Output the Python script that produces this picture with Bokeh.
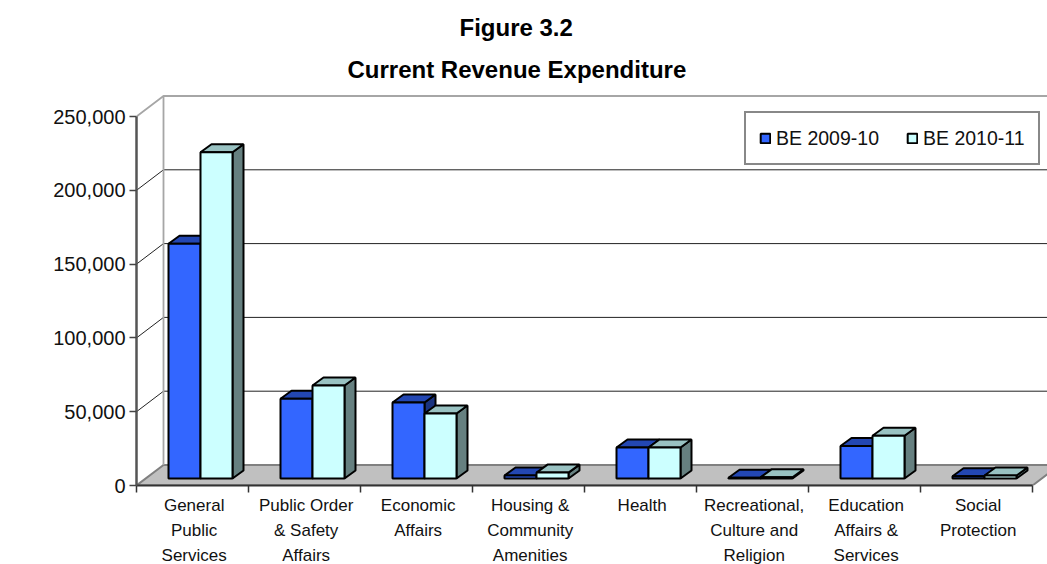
import math
from bokeh.embed import file_html
from bokeh.resources import INLINE
from bokeh.plotting import figure
from bokeh.models import (FixedTicker, Label, Legend, LegendItem, NumeralTickFormatter, Range1d, Title)

categories = ["General\nPublic\nServices", "Public Order\n& Safety\nAffairs", "Economic\nAffairs",
              "Housing &\nCommunity\nAmenities", "Health", "Recreational,\nCulture and\nReligion",
              "Education\nAffairs &\nServices", "Social\nProtection"]
be_2009_10 = [159000, 54000, 51500, 2000, 21000, 500, 22000, 1500]
be_2010_11 = [221000, 63000, 44000, 4000, 21000, 800, 29000, 2000]
y_ticks = [0, 50000, 100000, 150000, 200000, 250000]

PX_X = 112.0           # px per category
PX_Y = 73.8 / 50000.0  # px per value unit
FONT = "Liberation Sans"
W, H = 1047, 564
LEFT, BOTTOM, TOP = 136, 79, 90

n = len(categories)
wall_dx, wall_dy = 27 / PX_X, 20.5 / PX_Y
bar_dx, bar_dy = 11 / PX_X, 8 / PX_Y
base_dy = 7 / PX_Y
bar_w = 32 / PX_X
bar_off = 32 / PX_X

p = figure(width=W, height=H, output_backend="svg", toolbar_location=None,
           frame_width=W - LEFT, frame_height=H - BOTTOM - TOP,
           x_range=Range1d(0, (W - LEFT) / PX_X), y_range=Range1d(0, (H - BOTTOM - TOP) / PX_Y),
           min_border_left=LEFT, min_border_bottom=BOTTOM, min_border_top=TOP, min_border_right=0,
           outline_line_color=None, background_fill_color="white", margin=(0, 0, 0, 0))
p.grid.visible = False

p.patch([0, n, n + wall_dx, wall_dx], [0, 0, wall_dy, wall_dy],
        fill_color="#c0c0c0", line_color="#808080", line_width=2)
grid_vals = [v for v in y_ticks[1:-1]]
p.multi_line([[0, wall_dx, n + wall_dx] for v in grid_vals],
             [[v, v + wall_dy, v + wall_dy] for v in grid_vals], line_color="#222222", line_width=1)
v = y_ticks[-1]
p.line([0, wall_dx, n + wall_dx], [v, v + wall_dy, v + wall_dy], line_color="#a6a6a6", line_width=1.8)
p.line([wall_dx, wall_dx], [wall_dy, v + wall_dy], line_color="#a6a6a6", line_width=1.8)

def bars(values, offset, front, top_col, side_col):
    xl = [i + offset for i in range(n)]
    xr = [x + bar_w for x in xl]
    yb = [base_dy] * n
    yt = [val + base_dy for val in values]
    p.patches([[r, r + bar_dx, r + bar_dx, r] for r in xr],
              [[b, b + bar_dy, t + bar_dy, t] for b, t in zip(yb, yt)],
              fill_color=side_col, line_color="black", line_width=2)
    p.patches([[l, l + bar_dx, r + bar_dx, r] for l, r in zip(xl, xr)],
              [[t, t + bar_dy, t + bar_dy, t] for t in yt],
              fill_color=top_col, line_color="black", line_width=2)
    return p.quad(left=xl, right=xr, bottom=yb, top=yt, fill_color=front,
                  line_color="black", line_width=2)

r1 = bars(be_2009_10, bar_off, "#3366ff", "#2347b3", "#1a3380")
r2 = bars(be_2010_11, bar_off + bar_w, "#ccffff", "#99c2c2", "#668080")

ya = p.yaxis[0]
ya.ticker = FixedTicker(ticks=y_ticks, minor_ticks=[])
ya.formatter = NumeralTickFormatter(format="0,0")
ya.bounds = (0, y_ticks[-1])
ya.axis_line_color = "#555555"
ya.axis_line_width = 2.5
ya.major_tick_line_color = "#444444"
ya.major_tick_line_width = 1.5
ya.major_tick_in = 0
ya.major_tick_out = 7
ya.major_label_standoff = 4
ya.major_label_text_font = FONT
ya.major_label_text_font_size = "20px"
ya.major_label_text_color = "#111111"

xa = p.xaxis[0]
xa.ticker = FixedTicker(ticks=[i + 0.515 for i in range(n)], minor_ticks=list(range(n + 1)))
xa.major_label_overrides = {i + 0.515: c for i, c in enumerate(categories)}
xa.bounds = (0, n)
xa.axis_line_color = "#333333"
xa.axis_line_width = 2
xa.major_tick_line_color = None
xa.major_tick_in = 0
xa.major_tick_out = 0
xa.minor_tick_in = 0
xa.minor_tick_out = 7
xa.minor_tick_line_color = "#333333"
xa.minor_tick_line_width = 1.5
xa.major_label_standoff = 3
xa.major_label_text_font = FONT
xa.major_label_text_font_size = "17px"
xa.major_label_text_color = "#111111"
xa.major_label_text_line_height = 1.32

p.add_layout(Label(x=22 - LEFT, y=H - BOTTOM - 280, x_units="screen", y_units="screen",
                   text="Rs. in million", angle=math.pi / 2, text_align="center",
                   text_baseline="middle", text_font=FONT, text_font_size="21.5px",
                   text_color="#111111"))

t2 = Title(text="Current Revenue Expenditure", align="left", offset=347 - LEFT, standoff=15,
           text_font=FONT, text_font_size="24px", text_font_style="bold", text_color="#000000")
t1 = Title(text="Figure 3.2", align="left", offset=459 - LEFT, standoff=11,
           text_font=FONT, text_font_size="24px", text_font_style="bold", text_color="#000000")
p.add_layout(t2, "above")
p.add_layout(t1, "above")

legend = Legend(items=[LegendItem(label="BE 2009-10", renderers=[r1]),
                       LegendItem(label="BE 2010-11", renderers=[r2])],
                orientation="horizontal", location=(608, 320), margin=0, padding=13, spacing=27,
                glyph_width=12, glyph_height=12, label_standoff=5, label_height=24,
                label_text_font=FONT, label_text_font_size="19.5px", label_text_color="#111111",
                border_line_color="#111111", border_line_width=2, background_fill_color="white",
                background_fill_alpha=1)
p.add_layout(legend, "center")

open("out.html", "w").write(file_html(p, INLINE))
